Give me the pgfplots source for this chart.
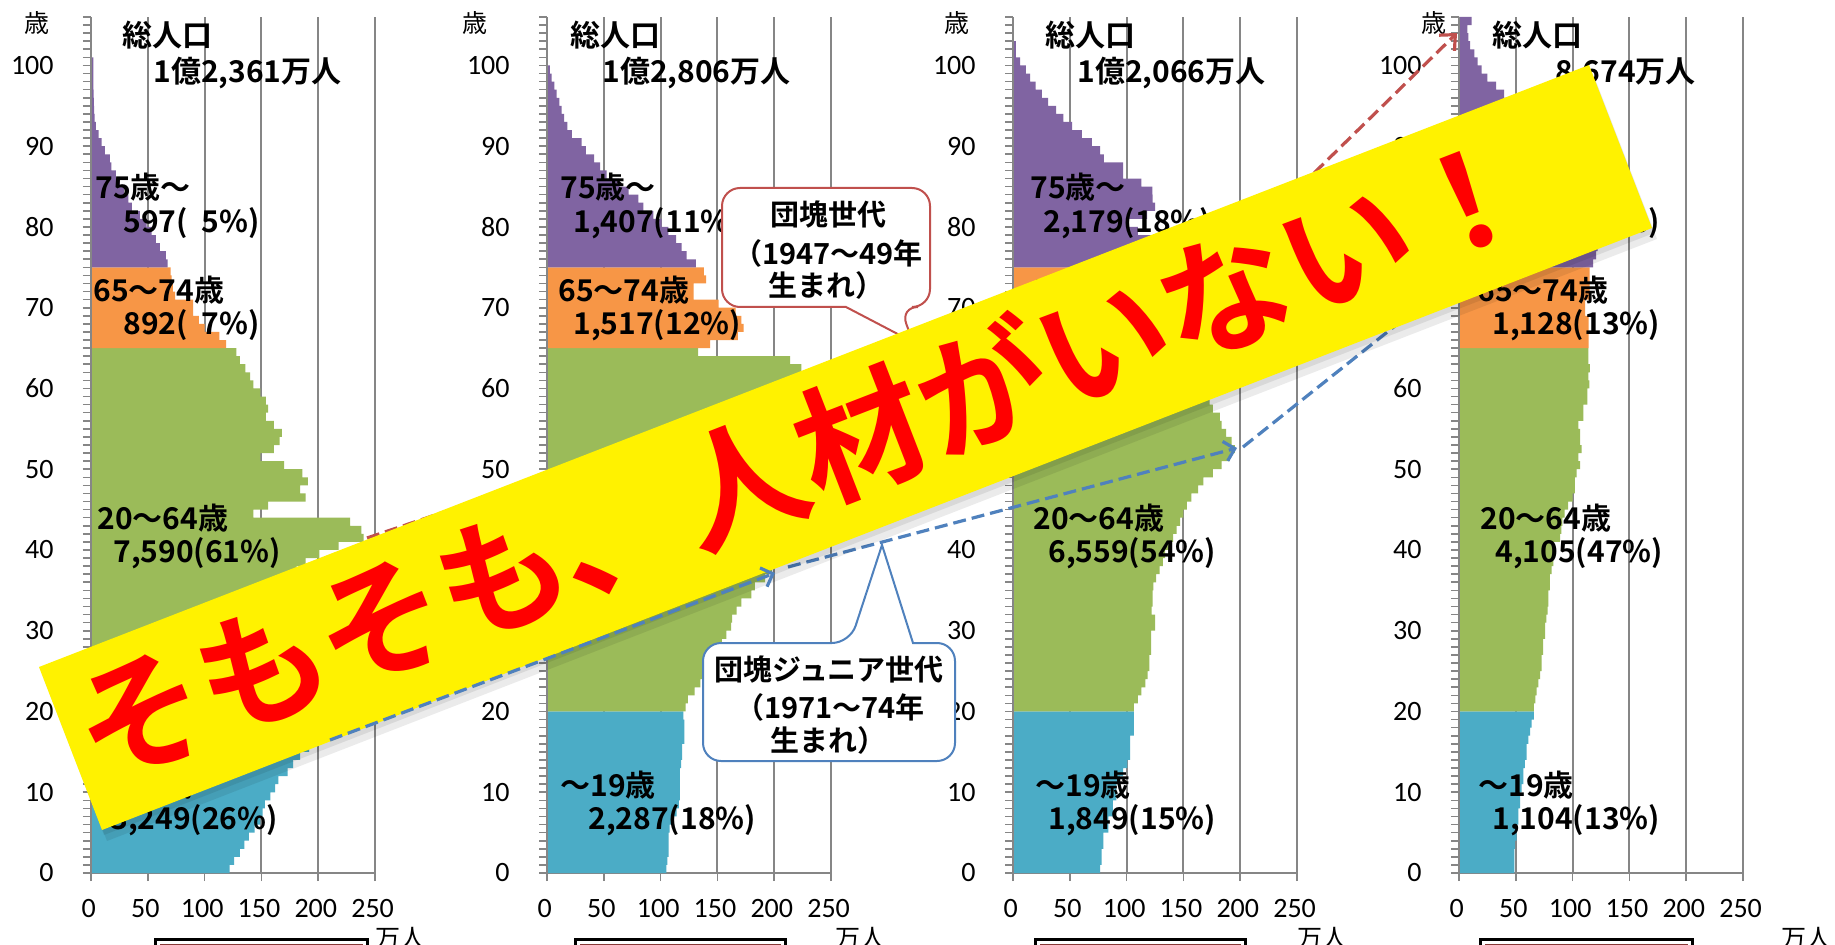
\documentclass[border=0pt]{standalone}
\usepackage{pgfplots}
\pgfplotsset{compat=1.18}
\usepackage{fontspec}
\usetikzlibrary{arrows.meta}
\newfontfamily\jp{Noto Sans CJK JP}
\newfontfamily\jpb{Noto Sans CJK JP Bold}
\newfontfamily\carl{Carlito}
\definecolor{cpur}{RGB}{128,100,162}
\definecolor{cora}{RGB}{247,150,70}
\definecolor{cgrn}{RGB}{155,187,89}
\definecolor{cblu}{RGB}{75,172,198}
\definecolor{cgrid}{RGB}{134,134,134}
\definecolor{cred}{RGB}{192,80,77}
\definecolor{cbl}{RGB}{79,129,189}
\pgfplotsset{
  pyr/.style={
    anchor=south west, scale only axis, width=142pt, height=428pt,
    xmin=0, xmax=250, ymin=0, ymax=106,
    axis x line=bottom, axis y line=left,
    axis line style={cgrid, line width=1pt, -},
    xtick={0,50,...,250}, ytick={0,10,...,100},
    minor ytick={0,1,...,106},
    tick align=outside,
    major tick length=4pt, minor tick length=4pt,
    tick style={cgrid, line width=0.8pt},
    xmajorgrids, grid style={cgrid, line width=1pt},
    /pgf/number format/assume math mode=true,
    ticklabel style={font=\carl\fontsize{14}{16}\selectfont, text=black},
    yticklabel style={anchor=east, inner sep=0pt, xshift=-14.5pt},
    xticklabel style={anchor=north, inner sep=0pt, yshift=-9pt, xshift=-1.2pt},
    clip=false,
  },
  bar/.style={xbar interval, fill=#1, draw=none},
}
\newcommand\lab[3]{\node[anchor=west, inner sep=0pt, font=\jpb\fontsize{15}{17}\selectfont] at (#1,#2) {#3};}
\begin{document}
\begin{tikzpicture}
\path[use as bounding box] (0,0) rectangle (917.5pt,472pt);
\clip (0,0) rectangle (917.5pt,472pt);
\fill[white] (0,0) rectangle (917.5pt,472pt);
% ---------- panel 1 (1990)
\begin{axis}[pyr, at={(45.5pt,35.5pt)}]
\addplot[bar=cblu] coordinates {(122,0) (126,1) (131,2) (135,3) (139,4) (144,5) (149,6) (151,7) (153,8) (158,9) (162,10) (165,11) (173,12) (178,13) (184,14) (192,15) (202,16) (207,17) (202,18) (196,19) (0,20)};
\addplot[bar=cgrn] coordinates {(188,20) (185,21) (183,22) (188,23) (133,24) (176,25) (167,26) (161,27) (157,28) (154,29) (156,30) (158,31) (159,32) (152,33) (161,34) (167,35) (171,36) (181,37) (189,38) (201,39) (218,40) (240,41) (238,42) (228,43) (143,44) (156,45) (189,46) (184,47) (191,48) (186,49) (170,50) (149,51) (161,52) (166,53) (168,54) (161,55) (154,56) (156,57) (154,58) (149,59) (143,60) (140,61) (136,62) (131,63) (128,64) (0,65)};
\addplot[bar=cora] coordinates {(119,65) (113,66) (100,67) (95,68) (90,69) (90,70) (74,71) (72,72) (71,73) (70,74) (0,75)};
\addplot[bar=cpur] coordinates {(67.5,75) (66,76) (60.7,77) (57,78) (53.4,79) (49,80) (43,81) (36,82) (33,83) (29,84) (25.5,85) (22,86) (18,87) (16.7,88) (12.3,89) (9.4,90) (6.7,91) (4.4,92) (3.2,93) (2.8,94) (2.5,95) (2.3,96) (2.2,97) (2.1,98) (2,99) (2,100) (0,101)};
\draw[cgrid, line width=1pt] (axis cs:0,0) -- (axis cs:0,106);
\end{axis}
% ---------- panel 2 (2010)
\begin{axis}[pyr, at={(273.5pt,35.5pt)}]
\addplot[bar=cblu] coordinates {(105,0) (106,1) (107,2) (107,3) (107,4) (108,5) (110,6) (114,7) (116,8) (117,9) (117,10) (117,11) (117,12) (118,13) (119,14) (119,15) (121,16) (121,17) (121,18) (120,19) (0,20)};
\addplot[bar=cgrn] coordinates {(122,20) (124,21) (130,22) (135,23) (139,24) (141,25) (145,26) (150,27) (154,28) (158,29) (162,30) (163,31) (167,32) (171,33) (180,34) (183,35) (192,36) (198,37) (197,38) (192,39) (185,40) (180,41) (178,42) (184,43) (130,44) (170,45) (162,46) (155,47) (152,48) (150,49) (152,50) (154,51) (156,52) (148,53) (157,54) (162,55) (166,56) (175,57) (186,58) (197,59) (210,60) (222,61) (224,62) (214,63) (133,64) (0,65)};
\addplot[bar=cora] coordinates {(143.5,65) (168,66) (173,67) (171,68) (166,69) (151,70) (129,71) (129,72) (140,73) (138,74) (0,75)};
\addplot[bar=cpur] coordinates {(131,75) (123,76) (118.5,77) (113.6,78) (106.8,79) (101,80) (93.6,81) (84.8,82) (80.4,83) (71.9,84) (63.7,85) (52.5,86) (46.7,87) (41.4,88) (34.3,89) (30.5,90) (22,91) (17.9,92) (15,93) (12.9,94) (10.9,95) (8.5,96) (6.5,97) (4.1,98) (2.6,99) (0,100)};
\draw[cgrid, line width=1pt] (axis cs:0,0) -- (axis cs:0,106);
\end{axis}
% ---------- panel 3 (2025)
\begin{axis}[pyr, at={(506.5pt,35.5pt)}]
\addplot[bar=cblu] coordinates {(76.6,0) (78,1) (78,2) (79.5,3) (79.5,4) (84,5) (84,6) (88,7) (88,8) (91,9) (91,10) (94,11) (97,12) (100.6,13) (103,14) (103,15) (103,16) (106.5,17) (106.5,18) (106.5,19) (0,20)};
\addplot[bar=cgrn] coordinates {(106.5,20) (110,21) (113,22) (116.5,23) (118.5,24) (120,25) (120,26) (121.5,27) (121.5,28) (121.5,29) (125,30) (125,31) (122,32) (123,33) (123,34) (123.5,35) (126,36) (129,37) (132,38) (134,39) (137,40) (141,41) (144,42) (147,43) (150,44) (153,45) (157,46) (163,47) (167.5,48) (176,49) (183.7,50) (191,51) (195.4,52) (192.5,53) (187.5,54) (183.7,55) (182,56) (176,57) (173,58) (125,59) (165,60) (156,61) (152,62) (149,63) (146,64) (0,65)};
\addplot[bar=cora] coordinates {(140,65) (141,66) (143,67) (136,68) (143,69) (147,70) (150,71) (157,72) (165,73) (175,74) (0,75)};
\addplot[bar=cpur] coordinates {(160,75) (175,76) (178,77) (170,78) (110,79) (100,80) (118,81) (125,82) (123,83) (122.6,84) (113,85) (97,86) (97,87) (80,88) (76.6,89) (69.5,90) (60.7,91) (52,92) (44.3,93) (37.9,94) (30.8,95) (25.5,96) (20,97) (15,98) (11.4,99) (6.2,100) (2.6,101) (2.6,102) (0,103)};
\draw[cgrid, line width=1pt] (axis cs:0,0) -- (axis cs:0,106);
\end{axis}
% ---------- panel 4 (2060)
\begin{axis}[pyr, at={(729.5pt,35.5pt)}]
\addplot[bar=cblu] coordinates {(48.7,0) (48.7,1) (48.7,2) (49.3,3) (50.8,4) (50.8,5) (52.2,6) (52.2,7) (53.7,8) (53.7,9) (55,10) (56.6,11) (56.6,12) (58,13) (59.6,14) (59.6,15) (61,16) (62.5,17) (64,18) (66,19) (0,20)};
\addplot[bar=cgrn] coordinates {(66,20) (67.2,21) (68.4,22) (69.8,23) (71.3,24) (72.8,25) (72.8,26) (74,27) (74,28) (75.7,29) (75.7,30) (77,31) (78,32) (78.6,33) (78.6,34) (80,35) (80,36) (81.6,37) (83,38) (83,39) (83,40) (89,41) (90,42) (91,43) (93,44) (96,45) (100,46) (102,47) (102,48) (103.6,49) (106.5,50) (105,51) (108,52) (106.5,53) (106.5,54) (105,55) (109.5,56) (109.5,57) (113,58) (113,59) (114.7,60) (113.8,61) (115.2,62) (113.8,63) (113.8,64) (0,65)};
\addplot[bar=cora] coordinates {(114,65) (114,66) (114,67) (114,68) (111,69) (111,70) (115,71) (115,72) (115,73) (115,74) (0,75)};
\addplot[bar=cpur] coordinates {(118,75) (120.6,76) (122,77) (123,78) (124,79) (124,80) (122,81) (120,82) (119,83) (117,84) (115,85) (112,86) (108,87) (104,88) (98,89) (91,90) (83,91) (74,92) (64,93) (55,94) (47,95) (39.6,96) (32.6,97) (25,98) (20,99) (16.4,100) (13.5,101) (9.7,102) (8.2,103) (7.3,104) (11,105) (0,106)};
\draw[cgrid, line width=1pt] (axis cs:0,0) -- (axis cs:0,106);
\end{axis}
% ---------- overlays in pixel coordinates
\begin{scope}[x=0.5pt,y=-0.5pt,shift={(0pt,472pt)}]
\foreach \xx in {37,475,957,1434} {\node[font=\jp\fontsize{12.5}{14}\selectfont, inner sep=0pt] at (\xx,23) {歳};}
\foreach \xx in {400,860,1322,1806} {\node[font=\jp\fontsize{12.5}{14}\selectfont, inner sep=0pt] at (\xx,938) {万人};}
\foreach \xa/\xb in {155/367,575/785,1035/1245,1480/1692} {
  \draw[black, line width=1.5pt] (\xa,939) rectangle (\xb,990);
  \draw[cred!70!black, line width=0.5pt] (\xa+5,944) rectangle (\xb-5,985);
}
% panel 1 labels
\lab{122}{35}{総人口}
\lab{153}{73}{1億2,361万人}
\lab{95}{187}{75歳～}
\lab{123}{223}{597(~~5\%)}
\lab{93}{290}{65～74歳}
\lab{123}{325}{892(~~7\%)}
\lab{97}{518}{20～64歳}
\lab{113}{553}{7,590(61\%)}
\lab{97}{785}{～19歳}
\lab{110}{820}{3,249(26\%)}
% panel 2
\lab{570}{35}{総人口}
\lab{602}{73}{1億2,806万人}
\lab{560}{187}{75歳～}
\lab{573}{223}{1,407(11\%)}
\lab{558}{290}{65～74歳}
\lab{573}{325}{1,517(12\%)}
\lab{560}{518}{20～64歳}
\lab{575}{553}{7,595(59\%)}
\lab{560}{785}{～19歳}
\lab{588}{820}{2,287(18\%)}
% panel 3
\lab{1045}{35}{総人口}
\lab{1077}{73}{1億2,066万人}
\lab{1030}{187}{75歳～}
\lab{1043}{223}{2,179(18\%)}
\lab{1030}{290}{65～74歳}
\lab{1043}{325}{1,479(12\%)}
\lab{1033}{518}{20～64歳}
\lab{1048}{553}{6,559(54\%)}
\lab{1035}{785}{～19歳}
\lab{1048}{820}{1,849(15\%)}
% panel 4
\lab{1492}{35}{総人口}
\lab{1555}{73}{8,674万人}
\lab{1477}{187}{75歳～}
\lab{1492}{223}{2,336(27\%)}
\lab{1477}{290}{65～74歳}
\lab{1492}{325}{1,128(13\%)}
\lab{1480}{518}{20～64歳}
\lab{1495}{553}{4,105(47\%)}
\lab{1478}{785}{～19歳}
\lab{1492}{820}{1,104(13\%)}
% callouts
\draw[cred, line width=1pt, fill=white, rounded corners=9] (722,188) -- (930,188) -- (930,307) -- (900,307) [sharp corners] -- (913,342) -- (846,307) [rounded corners=9] -- (722,307) -- cycle;
\node[font=\jpb\fontsize{14.5}{16}\selectfont, inner sep=0pt] at (828,215) {団塊世代};
\node[font=\jpb\fontsize{14.5}{16}\selectfont, inner sep=0pt] at (828,253) {（1947～49年};
\node[font=\jpb\fontsize{14.5}{16}\selectfont, inner sep=0pt] at (826,285) {生まれ）};
\draw[cbl, line width=1pt, fill=white, rounded corners=9] (703,643) -- (850,643) [sharp corners] -- (882,545) -- (913,643) [rounded corners=9] -- (955,643) -- (955,761) -- (703,761) -- cycle;
\node[font=\jpb\fontsize{14.5}{16}\selectfont, inner sep=0pt] at (829,670) {団塊ジュニア世代};
\node[font=\jpb\fontsize{14.5}{16}\selectfont, inner sep=0pt] at (830,707) {（1971～74年};
\node[font=\jpb\fontsize{14.5}{16}\selectfont, inner sep=0pt] at (828,740) {生まれ）};
% dashed arrows (under banner)
\draw[cred, line width=1.6pt, dash pattern=on 6.5pt off 3pt] (367,538) -- (800,392);
\draw[cred, line width=1.6pt, dash pattern=on 6.5pt off 3pt, -{Straight Barb[length=6pt,width=11pt]}] (1260,226) -- (1457,33);
\draw[cbl, line width=1.6pt, dash pattern=on 6.5pt off 3pt, -{Straight Barb[length=5pt,width=10pt]}] (788,567) -- (1237,448);
\draw[cbl, line width=1.6pt, dash pattern=on 6.5pt off 3pt] (1243,447) -- (1440,290);
% banner
\fill[black, opacity=0.08] (39+5,667+11) -- (1589+5,65+11) -- (1652+5,228+11) -- (102+5,830+11) -- cycle;
\fill[black, opacity=0.08] (39+2,667+5) -- (1589+2,65+5) -- (1652+2,228+5) -- (102+2,830+5) -- cycle;
\fill[yellow] (39,667) -- (1589,65) -- (1652,228) -- (102,830) -- cycle;
\node[text=red, font=\jpb\fontsize{65}{67}\selectfont, inner sep=0pt, rotate=21.2] at (803,456) {そもそも、人材がいない！};
\draw[cbl, line width=1.6pt, dash pattern=on 6.5pt off 3pt, -{Straight Barb[length=5pt,width=10pt]}] (330,740) -- (775,573);
\end{scope}
\end{tikzpicture}
\end{document}
